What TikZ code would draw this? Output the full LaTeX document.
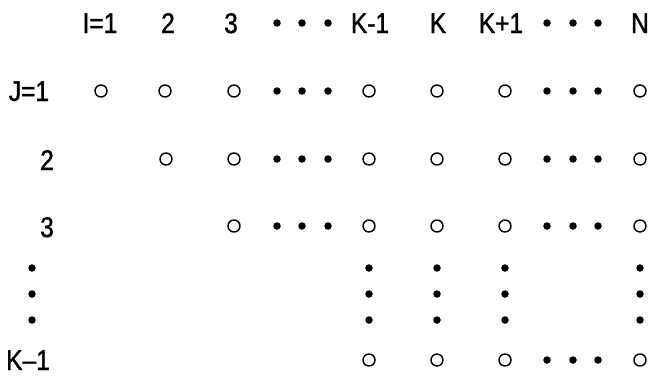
\documentclass[tikz,border=0pt]{standalone}
\usepackage{fontspec}
\setmainfont[FakeStretch=0.86,FakeBold=1.2]{Liberation Sans}
\begin{document}
\begin{tikzpicture}[x=1pt,y=-1pt,
  lbl/.style={inner sep=0pt,anchor=base,font=\fontsize{28.5}{30}\selectfont},
  pt/.style={circle,draw,line width=1.4pt,minimum size=12pt,inner sep=0pt},
  dt/.style={circle,fill,minimum size=7.5pt,inner sep=0pt}]
\useasboundingbox (0,0) rectangle (653,375);
% header (baselines)
\node[lbl] (hI) at (100,33) {I=1};
\node[lbl] (h2) at (168,33) {2};
\node[lbl] (h3) at (231,33) {3};
\node[dt] (hd1) at (277,23) {};
\node[dt] (hd2) at (302,23) {};
\node[dt] (hd3) at (328,23) {};
\node[lbl] (hK1) at (370,33) {K-1};
\node[lbl] (hK) at (438,33) {K};
\node[lbl] (hKp) at (501,33) {K+1};
\node[dt] (hd4) at (547,23) {};
\node[dt] (hd5) at (573,23) {};
\node[dt] (hd6) at (598,23) {};
\node[lbl] (hN) at (640,33) {N};
% row labels
\node[lbl] (rJ) at (29,101) {J=1};
\node[lbl] (r2) at (47,170) {2};
\node[lbl] (r3) at (47,237) {3};
\node[dt] (rv1) at (32,268) {};
\node[dt] (rv2) at (32,294) {};
\node[dt] (rv3) at (32,320) {};
\node[lbl] (rK) at (28,370) {K–1};
% row 1
\node[pt] (a1) at (101,91) {};
\node[pt] (a2) at (165,91) {};
\foreach \r/\y in {a/91,b/159,c/226}{
  \node[pt] (\r3) at (234,\y) {};
  \node[dt] (\r d1) at (277,\y) {};
  \node[dt] (\r d2) at (302,\y) {};
  \node[dt] (\r d3) at (328,\y) {};
}
\node[pt] (b2) at (166,159) {};
\foreach \r/\y in {a/91,b/159,c/226,k/360}{
  \node[pt] (\r K1) at (369,\y) {};
  \node[pt] (\r K) at (437,\y) {};
  \node[pt] (\r Kp) at (505,\y) {};
  \node[dt] (\r d4) at (547,\y) {};
  \node[dt] (\r d5) at (573,\y) {};
  \node[dt] (\r d6) at (598,\y) {};
  \node[pt] (\r N) at (640,\y) {};
}
% vertical dots
\foreach \c/\x in {K1/369,K/437,Kp/505,N/640}{
  \node[dt] (v\c1) at (\x,268) {};
  \node[dt] (v\c2) at (\x,294) {};
  \node[dt] (v\c3) at (\x,320) {};
}
\end{tikzpicture}
\end{document}
